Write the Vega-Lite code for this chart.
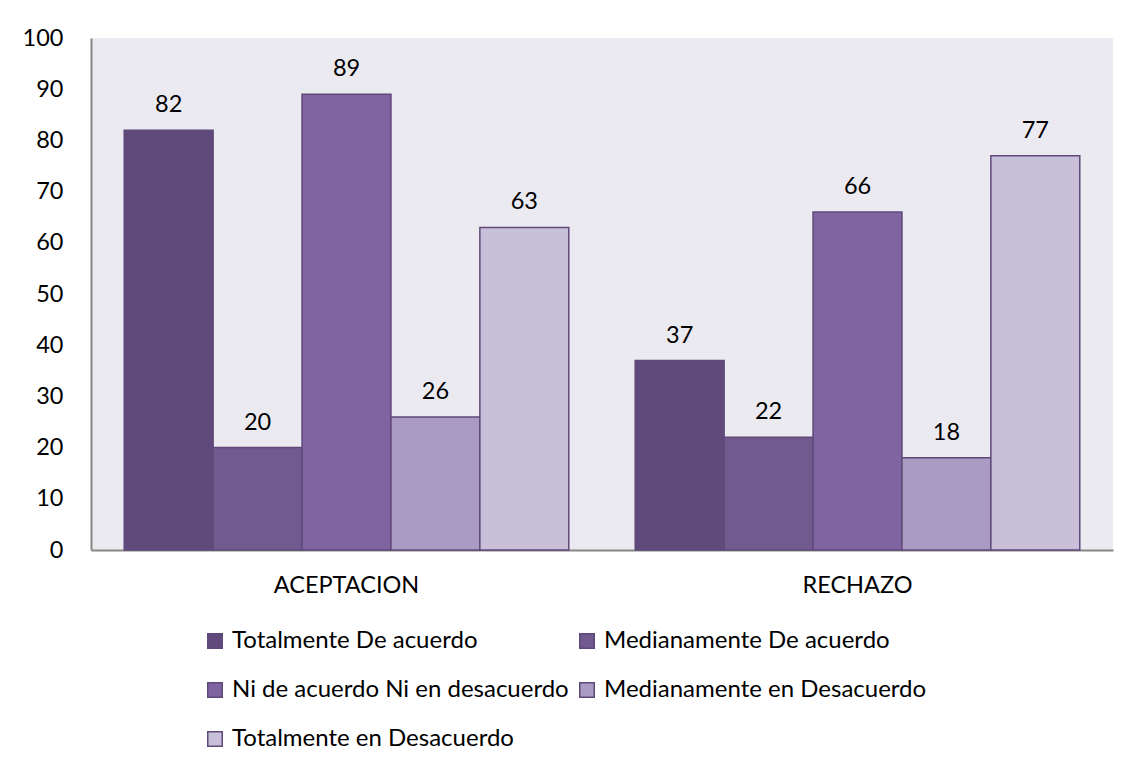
{
  "$schema": "https://vega.github.io/schema/vega-lite/v6.json",
  "width": 1022,
  "height": 512,
  "autosize": "none",
  "padding": {"left": 91, "top": 38, "right": 18, "bottom": 216},
  "background": "white",
  "config": {
    "font": "Lato",
    "view": {"fill": "#ECEAF1", "stroke": null}
  },
  "data": {
    "values": [
      {"grupo": "ACEPTACION", "respuesta": "Totalmente De acuerdo", "valor": 82},
      {"grupo": "ACEPTACION", "respuesta": "Medianamente De acuerdo", "valor": 20},
      {"grupo": "ACEPTACION", "respuesta": "Ni de acuerdo Ni en desacuerdo", "valor": 89},
      {"grupo": "ACEPTACION", "respuesta": "Medianamente en Desacuerdo", "valor": 26},
      {"grupo": "ACEPTACION", "respuesta": "Totalmente en Desacuerdo", "valor": 63},
      {"grupo": "RECHAZO", "respuesta": "Totalmente De acuerdo", "valor": 37},
      {"grupo": "RECHAZO", "respuesta": "Medianamente De acuerdo", "valor": 22},
      {"grupo": "RECHAZO", "respuesta": "Ni de acuerdo Ni en desacuerdo", "valor": 66},
      {"grupo": "RECHAZO", "respuesta": "Medianamente en Desacuerdo", "valor": 18},
      {"grupo": "RECHAZO", "respuesta": "Totalmente en Desacuerdo", "valor": 77}
    ]
  },
  "encoding": {
    "x": {
      "field": "grupo", "type": "nominal", "title": null,
      "scale": {"paddingInner": 0.13, "paddingOuter": 0.065},
      "axis": {"labelAngle": 0, "labelFontSize": 23.5, "labelColor": "#000000", "labelPadding": 23, "ticks": false, "domainColor": "#868686", "domainWidth": 2}
    },
    "xOffset": {
      "field": "respuesta", "type": "nominal",
      "sort": ["Totalmente De acuerdo", "Medianamente De acuerdo", "Ni de acuerdo Ni en desacuerdo", "Medianamente en Desacuerdo", "Totalmente en Desacuerdo"],
      "scale": {"paddingInner": 0, "paddingOuter": 0}
    },
    "y": {
      "field": "valor", "type": "quantitative", "title": null,
      "scale": {"domain": [0, 100], "nice": false},
      "axis": {"values": [0, 10, 20, 30, 40, 50, 60, 70, 80, 90, 100], "grid": false, "ticks": false, "labelFontSize": 23.5, "labelColor": "#000000", "labelPadding": 28, "domainColor": "#868686", "domainWidth": 2}
    }
  },
  "layer": [
    {
      "mark": {"type": "bar", "stroke": "#5F497A", "strokeWidth": 1.5},
      "encoding": {
        "color": {
          "field": "respuesta", "type": "nominal", "title": null,
          "sort": ["Totalmente De acuerdo", "Medianamente De acuerdo", "Ni de acuerdo Ni en desacuerdo", "Medianamente en Desacuerdo", "Totalmente en Desacuerdo"],
          "scale": {
            "domain": ["Totalmente De acuerdo", "Medianamente De acuerdo", "Ni de acuerdo Ni en desacuerdo", "Medianamente en Desacuerdo", "Totalmente en Desacuerdo"],
            "range": ["#604A7B", "#715A8E", "#8064A2", "#A99BC1", "#C8C0D8"]
          },
          "legend": {
            "orient": "none", "legendX": 112, "legendY": 591,
            "direction": "horizontal", "columns": 2,
            "labelFontSize": 24, "labelColor": "#000000", "labelLimit": 450,
            "symbolType": "square", "symbolSize": 210, "symbolStrokeColor": "#5F497A", "symbolStrokeWidth": 1.5,
            "rowPadding": 25, "columnPadding": 6, "labelOffset": 5
          }
        }
      }
    },
    {
      "mark": {"type": "text", "baseline": "bottom", "dy": -13, "fontSize": 23.5, "color": "#000000"},
      "encoding": {"text": {"field": "valor", "type": "quantitative"}}
    }
  ]
}
